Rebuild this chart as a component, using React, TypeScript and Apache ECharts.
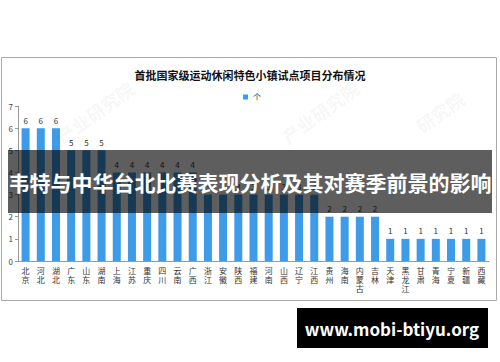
import React, { useEffect, useRef } from "react";
import * as echarts from "echarts";

const categories = [
  "北京", "河北", "湖北", "广东", "山东", "湖南", "上海", "江苏", "重庆", "四川", "云南", "广西",
  "浙江", "安徽", "陕西", "福建", "河南", "山西", "辽宁", "江西",
  "贵州", "海南", "内蒙古", "吉林",
  "天津", "黑龙江", "甘肃", "青海", "宁夏", "新疆", "西藏",
];
const counts = [
  6, 6, 6, 5, 5, 5, 4, 4, 4, 4, 4, 4,
  3, 3, 3, 3, 3, 3, 3, 3,
  2, 2, 2, 2,
  1, 1, 1, 1, 1, 1, 1,
];
const titleText = "首批国家级运动休闲特色小镇试点项目分布情况";
const legendName = "个";
const bannerText = "韦特与中华台北比赛表现分析及其对赛季前景的影响";
const siteText = "www.mobi-btiyu.org";
const watermarks = [
  { x: 95, y: 112, t: "产业研究院" },
  { x: 320, y: 112, t: "产业研究院" },
  { x: 440, y: 112, t: "研究院" },
];

const FONT = "'Noto Sans CJK SC', 'Noto Sans', sans-serif";

export default function App() {
  const ref = useRef<HTMLDivElement>(null);
  useEffect(() => {
    if (!ref.current) return;
    const chart = echarts.init(ref.current, undefined, { renderer: "svg" });
    chart.setOption({
      animation: false,
      backgroundColor: "#ffffff",
      title: {
        text: titleText,
        left: "center",
        top: 64,
        textStyle: { fontSize: 11, fontWeight: "bold", color: "#111", fontFamily: FONT },
      },
      legend: {
        data: [{ name: legendName, icon: "rect" }],
        top: 88,
        left: 238,
        itemWidth: 5,
        itemHeight: 5,
        itemGap: 4,
        textStyle: { fontSize: 8, color: "#333", fontFamily: FONT },
      },
      grid: { left: 18, right: 11, top: 106, bottom: 101 },
      xAxis: {
        type: "category",
        data: categories,
        axisLine: { lineStyle: { color: "#999" } },
        axisTick: { lineStyle: { color: "#999" }, length: 3 },
        axisLabel: {
          interval: 0,
          fontSize: 8,
          lineHeight: 9,
          color: "#333",
          margin: 5,
          fontFamily: FONT,
          formatter: (v: string) => v.split("").join("\n"),
        },
      },
      yAxis: {
        type: "value",
        min: 0,
        max: 7,
        interval: 1,
        axisLine: { show: true, lineStyle: { color: "#999" } },
        axisTick: { show: true, length: 3, lineStyle: { color: "#999" } },
        splitLine: { show: false },
        axisLabel: { fontSize: 8, color: "#444", margin: 5, fontFamily: FONT },
      },
      series: [
        {
          name: legendName,
          type: "bar",
          data: counts,
          barWidth: 8,
          itemStyle: { color: "#3d9be9" },
          label: {
            show: true,
            position: "top",
            distance: 4,
            fontSize: 8,
            color: "#333",
            fontFamily: FONT,
          },
        },
      ],
      graphic: [
        {
          type: "rect",
          shape: { x: 1.5, y: 57.5, width: 495, height: 243 },
          style: { fill: "none", stroke: "#aaaaaa", lineWidth: 1 },
          z: 1,
          silent: true,
        },
        ...watermarks.map((w) => ({
          type: "text",
          x: w.x,
          y: w.y,
          rotation: Math.PI / 5,
          style: {
            text: w.t,
            fill: "rgba(0,0,0,0.05)",
            font: `bold 18px ${FONT}`,
            textAlign: "center",
            textVerticalAlign: "middle",
          },
          z: 2,
          silent: true,
        })),
        {
          type: "rect",
          shape: { x: 8, y: 150, width: 484, height: 63 },
          style: { fill: "rgba(0,0,0,0.63)" },
          z: 100,
          silent: true,
        },
        {
          type: "text",
          x: 250,
          y: 182,
          style: {
            text: bannerText,
            fill: "#ffffff",
            font: `bold 21px ${FONT}`,
            textAlign: "center",
            textVerticalAlign: "middle",
          },
          z: 101,
          silent: true,
        },
        {
          type: "rect",
          shape: { x: 297, y: 308, width: 191, height: 40 },
          style: { fill: "#000000" },
          z: 100,
          silent: true,
        },
        {
          type: "text",
          x: 392,
          y: 328,
          style: {
            text: siteText,
            fill: "#ffffff",
            font: `bold 17px ${FONT}`,
            textAlign: "center",
            textVerticalAlign: "middle",
          },
          z: 101,
          silent: true,
        },
      ],
    });
    return () => chart.dispose();
  }, []);
  return (
    <div
      ref={ref}
      style={{ position: "fixed", left: 0, top: 0, width: 500, height: 362 }}
    />
  );
}
